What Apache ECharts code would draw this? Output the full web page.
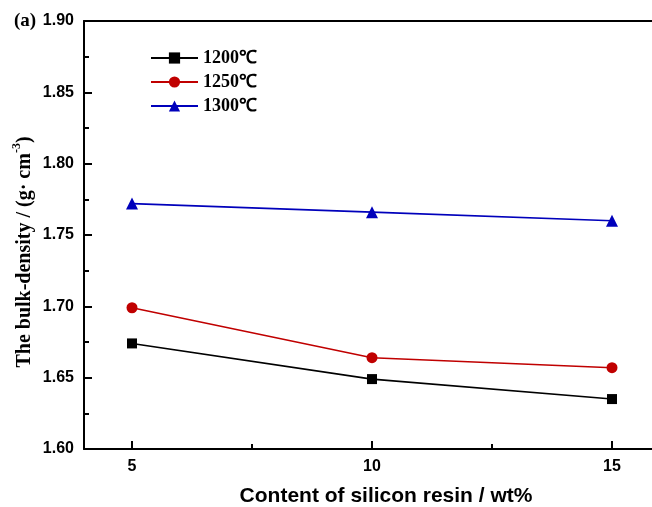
<!DOCTYPE html>
<html><head><meta charset="utf-8">
<script src="https://cdn.jsdelivr.net/npm/echarts@6/dist/echarts.min.js"></script>
<style>html,body{margin:0;padding:0;background:#fff}#c{width:652px;height:507px}</style>
</head><body><div id="c"></div>
<script>
const xValues = [5, 10, 15];
const seriesNames = ['1200\u2103', '1250\u2103', '1300\u2103'];
const s1200 = [1.674, 1.649, 1.635];
const s1250 = [1.699, 1.664, 1.657];
const s1300 = [1.772, 1.766, 1.760];
const xMajorTicks = [5, 10, 15];
const xMinorTicks = [7.5, 12.5];

const colors = ['#000000', '#c00000', '#0000bb'];
const symbols = ['rect', 'circle', 'triangle'];
const sizes = [10, 11, 12];
const allData = [s1200, s1250, s1300];

const gridW = 568;
const xMin = 4, xMax = 4 + gridW / 48;

const chart = echarts.init(document.getElementById('c'));
const labelFont = {fontFamily: 'Liberation Sans, Arial, sans-serif', fontWeight: 'bold', fontSize: 16, color: '#000'};
chart.setOption({
  animation: false,
  grid: {left: 84, top: 21, width: gridW, height: 428, outerBoundsMode: 'none'},
  legend: {
    orient: 'vertical', left: 145, top: 44, itemWidth: 47, itemHeight: 14, itemGap: 6,
    data: seriesNames,
    textStyle: {fontFamily: 'Liberation Serif, Times New Roman, serif', fontWeight: 'bold', fontSize: 18, color: '#000'}
  },
  xAxis: [{
    type: 'value', min: xMin, max: xMax,
    axisLine: {lineStyle: {color: '#000', width: 2}},
    axisTick: {inside: true, length: 8, lineStyle: {color: '#000', width: 2}, customValues: xMajorTicks},
    axisLabel: Object.assign({margin: 10, customValues: xMajorTicks}, labelFont),
    splitLine: {show: false}
  }, {
    type: 'value', min: xMin, max: xMax, position: 'bottom',
    axisLine: {show: false},
    axisTick: {inside: true, length: 5, lineStyle: {color: '#000', width: 2}, customValues: xMinorTicks},
    axisLabel: {show: false, customValues: xMinorTicks},
    splitLine: {show: false}
  }, {
    type: 'value', min: xMin, max: xMax, position: 'top',
    axisLine: {show: true, lineStyle: {color: '#000', width: 2}},
    axisTick: {show: false}, axisLabel: {show: false}, splitLine: {show: false}
  }],
  yAxis: {
    type: 'value', min: 1.6, max: 1.9, interval: 0.05,
    axisLine: {show: true, lineStyle: {color: '#000', width: 2}},
    axisTick: {inside: true, length: 8, lineStyle: {color: '#000', width: 2}},
    minorTick: {show: true, splitNumber: 2, length: 5, lineStyle: {color: '#000', width: 2}},
    axisLabel: Object.assign({margin: 10, formatter: v => v.toFixed(2)}, labelFont),
    splitLine: {show: false}
  },
  series: seriesNames.map((n, i) => ({
    name: n, type: 'line', xAxisIndex: 0,
    data: xValues.map((x, j) => [x, allData[i][j]]),
    symbol: symbols[i], symbolSize: sizes[i],
    lineStyle: {color: colors[i], width: 1.6},
    itemStyle: {color: colors[i]}
  })),
  graphic: [
    {type: 'text', left: 14, top: 12, style: {text: '(a)', font: 'bold 19px "Liberation Serif", serif', fill: '#000'}},
    {type: 'text', x: 386, y: 496, style: {text: 'Content of silicon resin / wt%', font: 'bold 21px "Liberation Sans", Arial, sans-serif', fill: '#000', align: 'center', verticalAlign: 'middle'}},
    {type: 'text', x: 23, y: 252, rotation: Math.PI / 2,
      style: {
        text: '{a|The bulk-density / (g· cm}{s|-3}{a|)}',
        align: 'center', verticalAlign: 'middle',
        rich: {
          a: {font: 'bold 20px "Liberation Serif", serif', fill: '#000', lineHeight: 24, verticalAlign: 'bottom'},
          s: {font: 'bold 12px "Liberation Serif", serif', fill: '#000', lineHeight: 24, verticalAlign: 'top'}
        }
      }}
  ]
});
</script></body></html>
